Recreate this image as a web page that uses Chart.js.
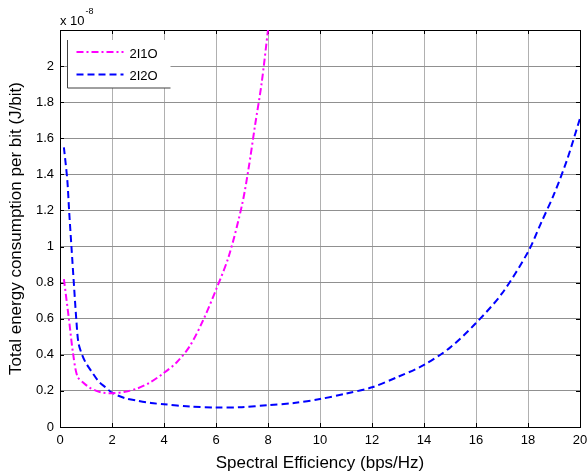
<!DOCTYPE html>
<html>
<head>
<meta charset="utf-8">
<script src="https://cdn.jsdelivr.net/npm/chart.js@4"></script>
<style>
  html, body { margin: 0; padding: 0; background: #fff; }
  #wrap { width: 588px; height: 476px; }
</style>
</head>
<body>
<div id="wrap"><canvas id="energyChart" width="588" height="476"></canvas></div>
<script>
// Data (y values in units of 1e-8 J/bit)
const seriesLabels = ['2I1O', '2I2O'];

const x2i1o = [0.15, 0.35, 0.5, 0.67, 0.9, 1.12, 1.4, 1.65, 2, 2.5, 3, 3.5, 4, 4.5, 5, 5.5, 6, 6.5, 7, 7.25, 7.5, 7.75, 8];
const y2i1o = [0.82, 0.59, 0.41, 0.28, 0.245, 0.22, 0.2, 0.19, 0.187, 0.195, 0.215, 0.25, 0.3, 0.36, 0.45, 0.59, 0.76, 0.95, 1.23, 1.43, 1.67, 1.9, 2.2];

const x2i2o = [0.15, 0.28, 0.35, 0.44, 0.54, 0.63, 0.71, 0.85, 1, 1.25, 1.5, 1.75, 2, 2.5, 3, 3.5, 4, 5, 6, 7, 8, 9, 10, 11, 12, 13, 14, 15, 16, 17, 18, 18.5, 19, 19.5, 20];
const y2i2o = [1.55, 1.37, 1.2, 1.0, 0.78, 0.59, 0.465, 0.4, 0.354, 0.3, 0.25, 0.22, 0.19, 0.16, 0.145, 0.133, 0.126, 0.113, 0.108, 0.11, 0.121, 0.133, 0.155, 0.185, 0.22, 0.278, 0.344, 0.44, 0.576, 0.74, 0.97, 1.13, 1.29, 1.48, 1.71];

const xTicks = [0, 2, 4, 6, 8, 10, 12, 14, 16, 18, 20];
const yTicks = [0, 0.2, 0.4, 0.6, 0.8, 1, 1.2, 1.4, 1.6, 1.8, 2];

const toPoints = (xs, ys) => xs.map((x, i) => ({ x: x, y: ys[i] }));

const FONT = 'Liberation Sans, Arial, sans-serif';

// axes box, inward ticks, exponent label and legend
const matlabAxes = {
  id: 'matlabAxes',
  beforeDatasetsDraw(chart) {
    const { ctx, chartArea: a, scales } = chart;
    ctx.save();
    ctx.strokeStyle = '#000';
    ctx.lineWidth = 1;
    ctx.beginPath();
    scales.x.ticks.forEach(t => {
      const px = Math.round(scales.x.getPixelForValue(t.value)) + 0.5;
      ctx.moveTo(px, a.bottom); ctx.lineTo(px, a.bottom - 4);
      ctx.moveTo(px, a.top); ctx.lineTo(px, a.top + 4);
    });
    scales.y.ticks.forEach(t => {
      const py = Math.round(scales.y.getPixelForValue(t.value)) + 0.5;
      ctx.moveTo(a.left, py); ctx.lineTo(a.left + 4, py);
      ctx.moveTo(a.right, py); ctx.lineTo(a.right - 4, py);
    });
    ctx.stroke();
    ctx.strokeRect(Math.round(a.left) + 0.5, Math.round(a.top) + 0.5,
      Math.round(a.right - a.left), Math.round(a.bottom - a.top));
    // exponent label
    ctx.fillStyle = '#000';
    ctx.textBaseline = 'alphabetic';
    ctx.textAlign = 'left';
    ctx.font = '13px ' + FONT;
    ctx.fillText('x 10', a.left, a.top - 5);
    const w = ctx.measureText('x 10').width;
    ctx.font = '9px ' + FONT;
    ctx.fillText('-8', a.left + w + 1, a.top - 16);
    ctx.restore();
  },
  afterDatasetsDraw(chart) {
    const { ctx, chartArea: a } = chart;
    const bx = a.left + 7.5, by = a.top + 10, bw = 103, bh = 48;
    ctx.save();
    ctx.fillStyle = '#fff';
    ctx.fillRect(bx, by, bw, bh);
    ctx.strokeStyle = '#404040';
    ctx.lineWidth = 1;
    ctx.beginPath();
    ctx.moveTo(bx, by); ctx.lineTo(bx, by + bh); ctx.lineTo(bx + bw, by + bh);
    ctx.stroke();
    chart.data.datasets.forEach((ds, i) => {
      const ly = by + 12 + i * 22.5;
      ctx.strokeStyle = ds.borderColor;
      ctx.lineWidth = 2;
      ctx.setLineDash(ds.borderDash);
      ctx.beginPath();
      ctx.moveTo(bx + 9, ly); ctx.lineTo(bx + 56, ly);
      ctx.stroke();
      ctx.setLineDash([]);
      ctx.fillStyle = '#000';
      ctx.font = '13px ' + FONT;
      ctx.textBaseline = 'middle';
      ctx.textAlign = 'left';
      ctx.fillText(ds.label, bx + 62, ly + 2);
    });
    ctx.restore();
  }
};

const ctx = document.getElementById('energyChart').getContext('2d');
const energyChart = new Chart(ctx, {
  type: 'line',
  data: {
    datasets: [
      {
        label: seriesLabels[0],
        data: toPoints(x2i1o, y2i1o),
        borderColor: '#ff00ff',
        borderWidth: 2,
        borderDash: [7, 3, 2, 3],
        pointRadius: 0,
        tension: 0.3,
        fill: false
      },
      {
        label: seriesLabels[1],
        data: toPoints(x2i2o, y2i2o),
        borderColor: '#0000ff',
        borderWidth: 2,
        borderDash: [7, 4],
        pointRadius: 0,
        tension: 0.3,
        fill: false
      }
    ]
  },
  options: {
    responsive: false,
    animation: false,
    layout: { padding: { top: 30, right: 8, left: 0, bottom: 0 } },
    plugins: {
      legend: { display: false },
      tooltip: { enabled: false }
    },
    scales: {
      x: {
        type: 'linear',
        min: 0,
        max: 20,
        afterBuildTicks: s => { s.ticks = xTicks.map(v => ({ value: v })); },
        afterFit: s => { s.height = 49; s.paddingLeft = 0; s.paddingRight = 0; },
        grid: { color: '#b0b0b0', lineWidth: 1, drawTicks: false },
        border: { display: false },
        ticks: { color: '#000', padding: 6, font: { family: FONT, size: 13 } },
        title: {
          display: true,
          text: 'Spectral Efficiency (bps/Hz)',
          color: '#000',
          padding: { top: 0, bottom: 2 },
          font: { family: FONT, size: 17 }
        }
      },
      y: {
        type: 'linear',
        min: 0,
        max: 2.2,
        afterBuildTicks: s => { s.ticks = yTicks.map(v => ({ value: v })); },
        afterFit: s => { s.width = 60; s.paddingTop = 0; s.paddingBottom = 0; },
        grid: { color: '#909090', lineWidth: 1, drawTicks: false },
        border: { display: false },
        ticks: {
          color: '#000',
          padding: 6,
          font: { family: FONT, size: 13 },
          callback: v => String(Math.round(v * 10) / 10)
        },
        title: {
          display: true,
          text: 'Total energy consumption per bit (J/bit)',
          color: '#000',
          padding: { top: 6, bottom: 0 },
          font: { family: FONT, size: 17 }
        }
      }
    }
  },
  plugins: [matlabAxes]
});
</script>
</body>
</html>
